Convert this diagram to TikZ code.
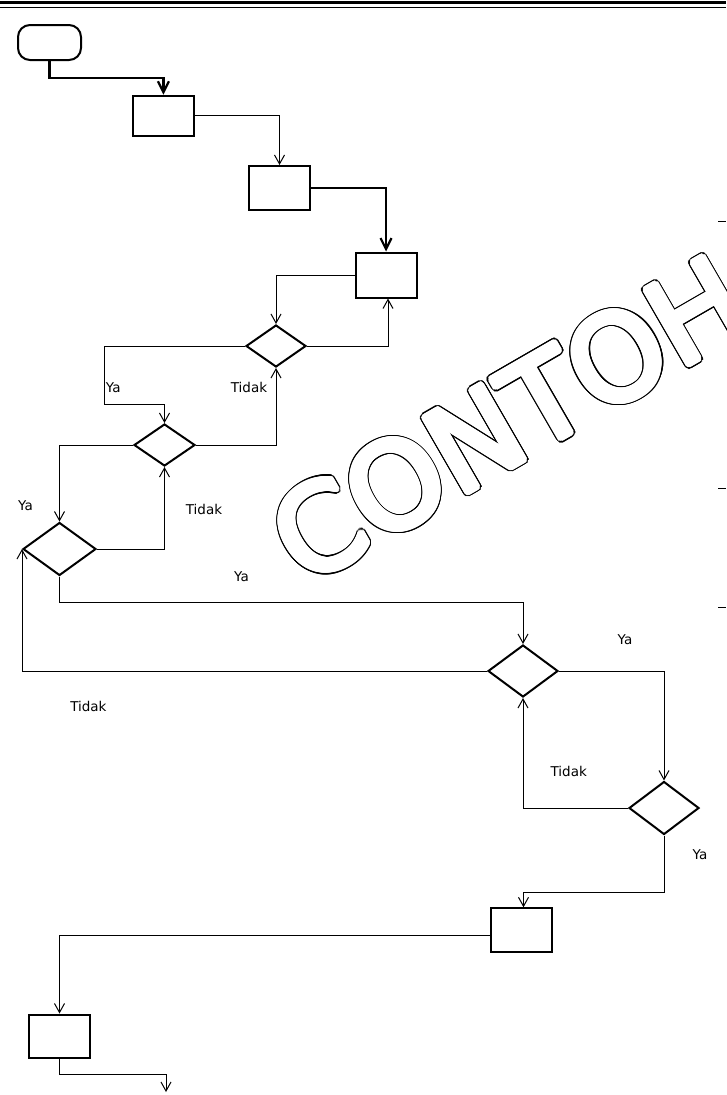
\documentclass[tikz,border=0pt]{standalone}
\usepackage{fontspec}
\setmainfont{DejaVu Sans}
\usetikzlibrary{arrows.meta,shapes.geometric}
\tikzset{
	kotak/.style={draw, line width=2pt, rectangle, inner sep=0pt},
	belah/.style={draw, line width=2pt, diamond, inner sep=0pt},
	alur/.style={line width=1pt, -{Straight Barb[length=9pt,width=10pt,line width=1pt]}},
	alur tebal/.style={line width=2.2pt, -{Straight Barb[length=11pt,width=11pt,line width=2.2pt]}},
	ket/.style={inner sep=0pt, font=\fontsize{13.5}{14}\selectfont},
	tanda/.style={inner sep=0pt, rotate=30, font=\fontsize{119}{119}\selectfont}
}

\begin{document}
\begin{tikzpicture}[x=1pt, y=-1pt]
			%%%%% START %%%%%
			\useasboundingbox (0, 0) rectangle (726, 1095);
			
			\draw[line width=3pt] (0, 2.5) -- (726, 2.5);
			\draw[line width=1.5pt] (0, 7.3) -- (726, 7.3);
			\draw[line width=1pt] (718, 221) -- (726, 221);
			\draw[line width=1pt] (718, 488) -- (726, 488);
			\draw[line width=1pt] (718, 607) -- (726, 607);
			
			% tulisan CONTOH
			\foreach \s in {0,11.25,...,350}
				\node[tanda, shift={(\s:4.2pt)}] at (509, 419) {CONTOH};
			\foreach \s in {0,15,...,345}
				\node[tanda, text=white, shift={(\s:2.9pt)}] at (509, 419) {CONTOH};
			\node[tanda, text=white] (contoh) at (509, 419) {CONTOH};
			
			\node[draw, line width=2pt, rounded corners=12pt, minimum width=63pt, minimum height=35pt] (mulai) at (49.5, 42.5) {};
			\node[kotak, minimum width=61pt, minimum height=40pt] (p1) at (163.4, 115.7) {};
			\node[kotak, minimum width=61pt, minimum height=44pt] (p2) at (279.5, 188) {};
			\node[kotak, minimum width=61pt, minimum height=45pt] (p3) at (386, 275) {};
			
			\node[belah, minimum width=60pt, minimum height=42pt] (k1) at (276, 346) {};
			\node[belah, minimum width=61pt, minimum height=42pt] (k2) at (164.5, 445) {};
			\node[belah, minimum width=73pt, minimum height=53pt] (k3) at (59.5, 549) {};
			\node[belah, minimum width=70pt, minimum height=52pt] (k4) at (523, 671) {};
			\node[belah, minimum width=70pt, minimum height=53pt] (k5) at (664, 808) {};
			
			\node[kotak, minimum width=61.6pt, minimum height=44pt] (p4) at (521.5, 930.3) {};
			\node[kotak, minimum width=61pt, minimum height=43pt] (p5) at (59.5, 1036) {};
			
			\coordinate (b1) at (104, 404);
			\coordinate (akhir) at (166, 1092);
			
			\draw[alur tebal] (mulai.south) -- ++(0, 17) -| (p1.north);
			\draw[alur, line width=1.3pt] (p1.east) -| (p2.north);
			\draw[alur tebal, line width=2pt] (p2.east) -| (p3.north);
			\draw[alur] (p3.west) -| (k1.north);
			\draw[alur] (k1.east) -| ([xshift=2pt]p3.south);
			\draw[alur] (k1.west) -| (b1) -| (k2.north);
			\draw[alur] (k2.east) -| (k1.south);
			\draw[alur] (k2.west) -| (k3.north);
			\draw[alur] (k3.east) -| (k2.south);
			\draw[alur] (k3.south) -- ++(0, 26) -| (k4.north);
			\draw[alur] (k4.west) -| (k3.west);
			\draw[alur] (k4.east) -| (k5.north);
			\draw[alur] (k5.west) -| (k4.south);
			\draw[alur] (k5.south) -- ++(0, 57) -| ([xshift=2pt]p4.north);
			\draw[alur] ([yshift=-5pt]p4.west) -| (p5.north);
			\draw[alur] (p5.south) -- ++(0, 16) -| (akhir);
			
			\node[ket] (ya1) at (113.3, 387.5) {Ya};
			\node[ket] (tidak1) at (249, 387.5) {Tidak};
			\node[ket] (ya2) at (25.5, 505.5) {Ya};
			\node[ket] (tidak2) at (204, 509.5) {Tidak};
			\node[ket] (ya3) at (241.5, 576.7) {Ya};
			\node[ket] (tidak3) at (88.4, 706) {Tidak};
			\node[ket] (ya4) at (625, 640) {Ya};
			\node[ket] (tidak4) at (568.7, 771) {Tidak};
			\node[ket] (ya5) at (700, 855) {Ya};
			%%%%% END %%%%%
\end{tikzpicture}
\end{document}
